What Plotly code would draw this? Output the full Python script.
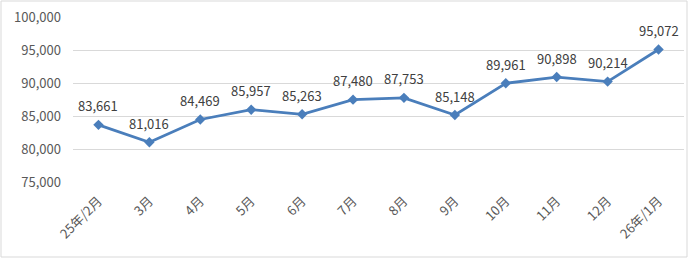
import plotly.graph_objects as go

months = ["25年/2月", "3月", "4月", "5月", "6月", "7月", "8月", "9月", "10月", "11月", "12月", "26年/1月"]
values = [83661, 81016, 84469, 85957, 85263, 87480, 87753, 85148, 89961, 90898, 90214, 95072]
y_ticks = [75000, 80000, 85000, 90000, 95000, 100000]

FONT = "Noto Sans CJK JP, Noto Sans, sans-serif"
LINE = "#4A7EBB"

fig = go.Figure()
fig.add_trace(go.Scatter(
    x=months, y=values, mode="lines+markers",
    line=dict(color=LINE, width=2.75),
    marker=dict(symbol="diamond", size=8, color=LINE),
    cliponaxis=False,
))
for m, v in zip(months, values):
    fig.add_annotation(x=m, y=v, text=f"{v:,}", showarrow=False,
                       yshift=19, font=dict(family=FONT, size=13, color="#404040"))

W, H = 700, 259
L, R, T, B = 73, 16, 17, 77
pw, ph = W - L - R, H - T - B
fig.add_shape(type="rect", xref="paper", yref="paper",
              x0=(1 - L) / pw, x1=(687 - L) / pw,
              y0=(H - B - 257) / ph, y1=(H - B - 1) / ph,
              line=dict(color="#d9d9d9", width=1), layer="below")

fig.update_layout(
    width=W, height=H, margin=dict(l=L, r=R, t=T, b=B, autoexpand=False),
    paper_bgcolor="white", plot_bgcolor="white",
    showlegend=False,
    font=dict(family=FONT, color="#595959", size=12),
    xaxis=dict(type="category", tickangle=-45, showgrid=False, showline=False,
               range=[-0.5, len(months) - 0.5],
               ticks="", ticklabelstandoff=8, automargin=False,
               tickfont=dict(family=FONT, size=13, color="#595959")),
    yaxis=dict(range=[75000, 100000], tickvals=y_ticks,
               ticktext=[f"{v:,}" for v in y_ticks], automargin=False,
               showgrid=True, gridcolor="#d9d9d9", gridwidth=1,
               zeroline=False, showline=False, ticks="", ticklabelstandoff=11,
               tickfont=dict(family=FONT, size=13, color="#595959")),
)

fig.write_html("out.html")
